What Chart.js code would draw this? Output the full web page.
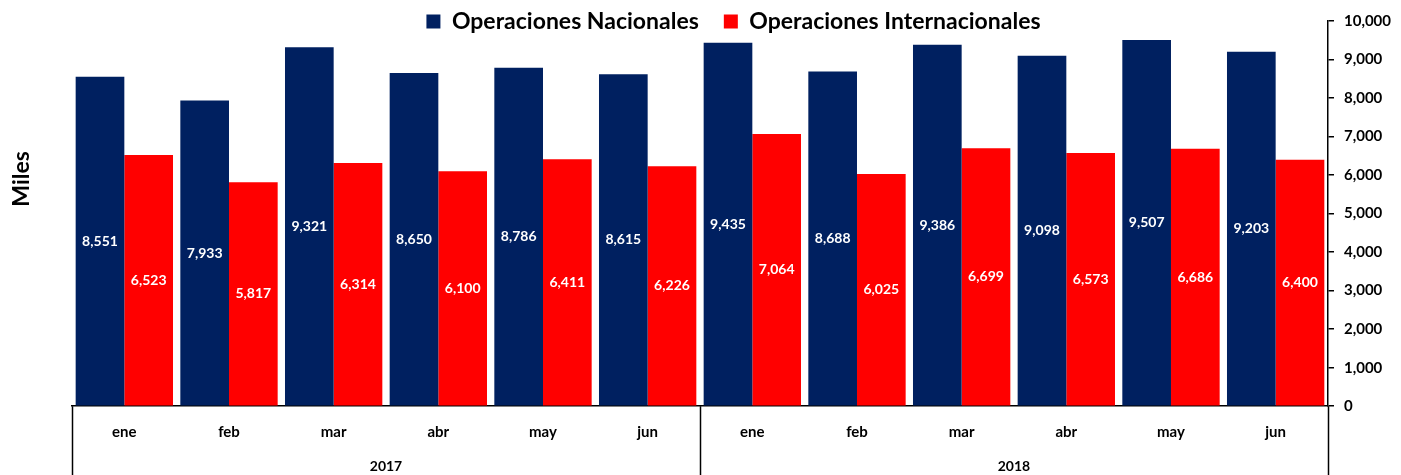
<!DOCTYPE html>
<html>
<head>
<meta charset="utf-8">
<script src="https://cdn.jsdelivr.net/npm/chart.js@4/dist/chart.umd.min.js"></script>
<style>
  body { margin: 0; background: #fff; }
  #wrap { width: 1401px; height: 475px; }
</style>
</head>
<body>
<div id="wrap"><canvas id="opsChart"></canvas></div>
<script>
//chart data
var months = ['ene', 'feb', 'mar', 'abr', 'may', 'jun', 'ene', 'feb', 'mar', 'abr', 'may', 'jun'];
var years = ['2017', '2018'];
var nacionales = [8551, 7933, 9321, 8650, 8786, 8615, 9435, 8688, 9386, 9098, 9507, 9203];
var internacionales = [6523, 5817, 6314, 6100, 6411, 6226, 7064, 6025, 6699, 6573, 6686, 6400];

var NAVY = '#002060';
var RED = '#ff0000';
var FONT = 'Lato, "Open Sans", sans-serif';

function fmt(v) {
    return Number(v).toLocaleString('en-US');
}

//white value labels in the middle of every bar
const barLabels = {
    id: 'barLabels',
    afterDatasetsDraw(chart) {
        const ctx = chart.ctx;
        ctx.save();
        ctx.fillStyle = '#fff';
        ctx.font = 'bold 14px ' + FONT;
        ctx.textAlign = 'center';
        ctx.textBaseline = 'middle';
        chart.data.datasets.forEach((ds, di) => {
            chart.getDatasetMeta(di).data.forEach((bar, i) => {
                ctx.fillText(fmt(ds.data[i]), bar.x, (bar.y + bar.base) / 2);
            });
        });
        ctx.restore();
    }
};

//"Miles" on the left side + the year separators under the axis
const extras = {
    id: 'extras',
    afterDraw(chart) {
        const ctx = chart.ctx;
        const area = chart.chartArea;
        const x = chart.scales.x;
        ctx.save();
        ctx.fillStyle = '#000';
        ctx.font = 'bold 23px ' + FONT;
        ctx.textAlign = 'center';
        ctx.textBaseline = 'middle';
        ctx.translate(22, area.top + area.height * 0.41);
        ctx.rotate(-Math.PI / 2);
        ctx.fillText('Miles', 0, 0);
        ctx.restore();

        //one line at each end and one between the years
        ctx.save();
        ctx.strokeStyle = '#000';
        ctx.lineWidth = 1.5;
        [-0.5, months.length / 2 - 0.5, months.length - 0.5].forEach((v) => {
            const px = Math.round(x.getPixelForValue(v)) + 0.5;
            ctx.beginPath();
            ctx.moveTo(px, area.bottom);
            ctx.lineTo(px, chart.height);
            ctx.stroke();
        });
        ctx.restore();
    }
};

//legend sits over the top of the plot, like the original
const legendShift = {
    id: 'legendShift',
    afterLayout(chart) {
        const lg = chart.legend;
        lg.top += 22; lg.bottom += 22;
        lg.left -= 3; lg.right -= 3;
    }
};

function plot() {
    const ctx = document.getElementById('opsChart').getContext('2d');

    new Chart(ctx, {
        type: 'bar',
        data: {
            labels: months,
            datasets: [{
                label: 'Operaciones Nacionales',
                data: nacionales,
                backgroundColor: NAVY,
                yAxisID: 'y'
            }, {
                label: 'Operaciones Internacionales',
                data: internacionales,
                backgroundColor: RED,
                yAxisID: 'y'
            }]
        },
        options: {
            responsive: true,
            maintainAspectRatio: false,
            animation: false,
            datasets: {
                bar: { categoryPercentage: 0.93, barPercentage: 1.0 }
            },
            layout: { padding: { left: 72, top: -37, right: 0, bottom: 0 } },
            scales: {
                x: {
                    type: 'category',
                    position: 'bottom',
                    grid: { display: false, drawTicks: false },
                    border: { display: true, color: '#000', width: 1.5 },
                    ticks: {
                        color: '#000',
                        font: { family: FONT, size: 15, weight: 'bold' },
                        padding: 17,
                        autoSkip: false,
                        maxRotation: 0
                    }
                },
                x2: {
                    type: 'category',
                    position: 'bottom',
                    labels: years,
                    offset: true,
                    grid: { display: false, drawTicks: false },
                    border: { display: false },
                    ticks: {
                        color: '#000',
                        font: { family: FONT, size: 14, weight: 'bold' },
                        padding: 0,
                        maxRotation: 0
                    }
                },
                y: {
                    position: 'right',
                    min: 0,
                    max: 10000,
                    grid: {
                        drawOnChartArea: false,
                        tickLength: 6,
                        color: '#000',
                        lineWidth: 1.5
                    },
                    border: { display: true, color: '#000', width: 1.5 },
                    ticks: {
                        stepSize: 1000,
                        color: '#000',
                        padding: 10,
                        font: { family: FONT, size: 15, weight: 'bold' },
                        callback: (v) => fmt(v)
                    }
                }
            },
            plugins: {
                legend: {
                    position: 'top',
                    labels: {
                        boxWidth: 14,
                        boxHeight: 14,
                        padding: 25,
                        color: '#000',
                        font: { family: FONT, size: 23, weight: 'bold' }
                    }
                },
                tooltip: { enabled: false }
            }
        },
        plugins: [barLabels, extras, legendShift]
    });
}

plot();
</script>
</body>
</html>
